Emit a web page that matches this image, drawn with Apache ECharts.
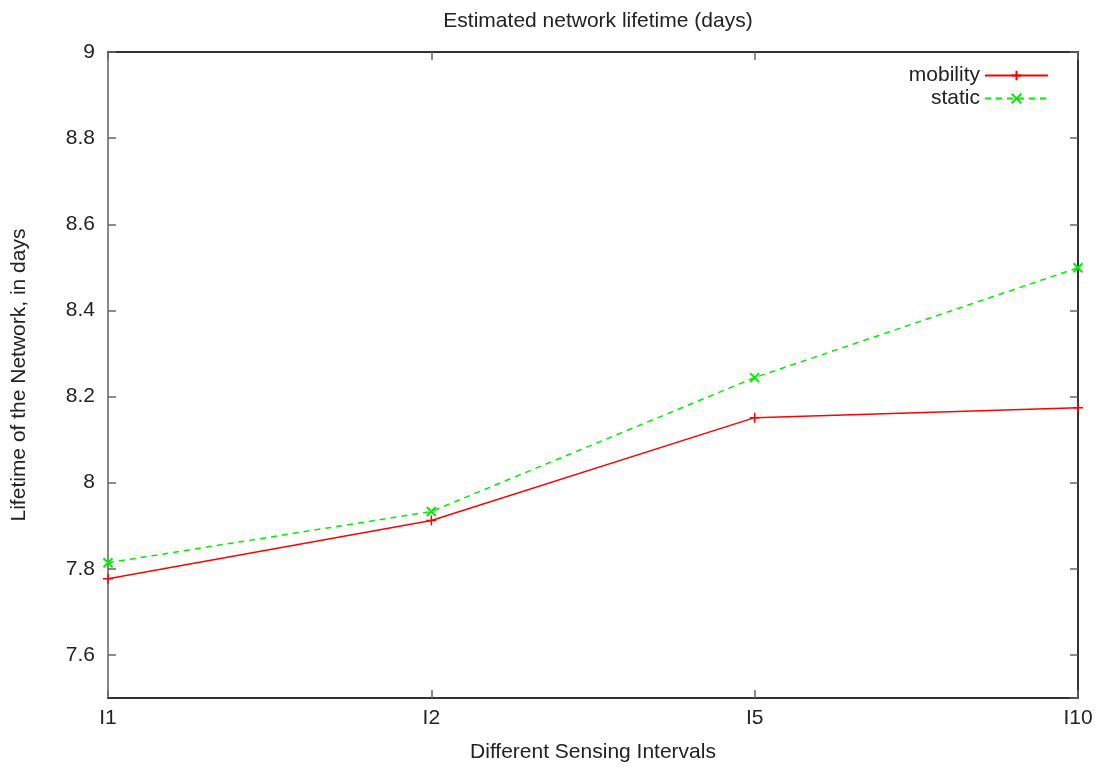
<!DOCTYPE html>
<html>
<head>
<meta charset="utf-8">
<script src="https://cdn.jsdelivr.net/npm/echarts@6/dist/echarts.min.js"></script>
<style>
  html, body { margin: 0; padding: 0; background: #fff; }
  #chart { width: 1099px; height: 767px; }
</style>
</head>
<body>
<div id="chart"></div>
<script>
var categories = ['I1', 'I2', 'I5', 'I10']
var mobility = [7.777, 7.912, 8.151, 8.174]
var staticVals = [7.814, 7.933, 8.244, 8.499]

var font = 'Liberation Sans'
var fs = 21
var plusPath = 'path://M5,0 L5,10 M0,5 L10,5'
var crossPath = 'path://M0,0 L10,10 M10,0 L0,10'

var chart = echarts.init(document.getElementById('chart'))

function tickAxis(extra) {
  return Object.assign({
    axisTick: { show: true, inside: true, length: 8, lineStyle: { color: '#666', width: 1.5 } },
    splitLine: { show: false }
  }, extra)
}

chart.setOption({
  animation: false,
  textStyle: { fontFamily: font },
  title: {
    text: 'Estimated network lifetime (days)',
    left: 593,
    top: 6,
    textAlign: 'center',
    textStyle: { fontFamily: font, fontSize: fs, fontWeight: 'normal', color: '#222' }
  },
  grid: { left: 108, right: 21, top: 52, bottom: 69, outerBoundsMode: 'none', containLabel: false },
  legend: [{
    data: ['mobility'],
    right: 45,
    top: 60,
    align: 'right',
    itemWidth: 63,
    itemHeight: 12,
    itemGap: 12,
    textStyle: { fontFamily: font, fontSize: fs, color: '#222' }
  }, {
    data: ['static'],
    right: 45,
    top: 83,
    align: 'right',
    itemWidth: 63,
    itemHeight: 12,
    itemGap: 12,
    textStyle: { fontFamily: font, fontSize: fs, color: '#222' }
  }],
  xAxis: [tickAxis({
    type: 'category',
    data: categories,
    boundaryGap: false,
    position: 'bottom',
    name: 'Different Sensing Intervals',
    nameLocation: 'middle',
    nameGap: 44,
    nameTextStyle: { fontFamily: font, fontSize: fs, color: '#222' },
    axisLine: { lineStyle: { color: '#333', width: 2 } },
    axisLabel: { margin: 10, fontSize: fs, color: '#222', fontFamily: font }
  }), tickAxis({
    type: 'category',
    data: categories,
    boundaryGap: false,
    position: 'top',
    axisLine: { lineStyle: { color: '#333', width: 2 } },
    axisLabel: { show: false }
  })],
  yAxis: [tickAxis({
    type: 'value',
    min: 7.5,
    max: 9,
    splitNumber: 7,
    position: 'left',
    name: 'Lifetime of the Network, in days',
    nameLocation: 'middle',
    nameGap: 78,
    nameTextStyle: { fontFamily: font, fontSize: fs, color: '#222' },
    axisLine: { show: true, lineStyle: { color: '#888', width: 2 } },
    axisLabel: { margin: 13, fontSize: fs, color: '#222', fontFamily: font, showMinLabel: false }
  }), tickAxis({
    type: 'value',
    min: 7.5,
    max: 9,
    splitNumber: 7,
    position: 'right',
    axisLine: { show: true, lineStyle: { color: '#333', width: 2 } },
    axisLabel: { show: false }
  })],
  series: [{
    name: 'mobility',
    type: 'line',
    data: mobility,
    symbol: plusPath,
    symbolSize: 10,
    color: '#ff0000',
    lineStyle: { color: '#ff0000', width: 1.5 },
    itemStyle: { color: '#ff0000', borderColor: '#ff0000', borderWidth: 1.5 }
  }, {
    name: 'static',
    type: 'line',
    data: staticVals,
    symbol: crossPath,
    symbolSize: 9,
    color: '#00ee00',
    lineStyle: { color: '#00ee00', width: 1.5, type: [6, 5] },
    itemStyle: { color: '#00ee00', borderColor: '#00ee00', borderWidth: 2 }
  }]
})
</script>
</body>
</html>
